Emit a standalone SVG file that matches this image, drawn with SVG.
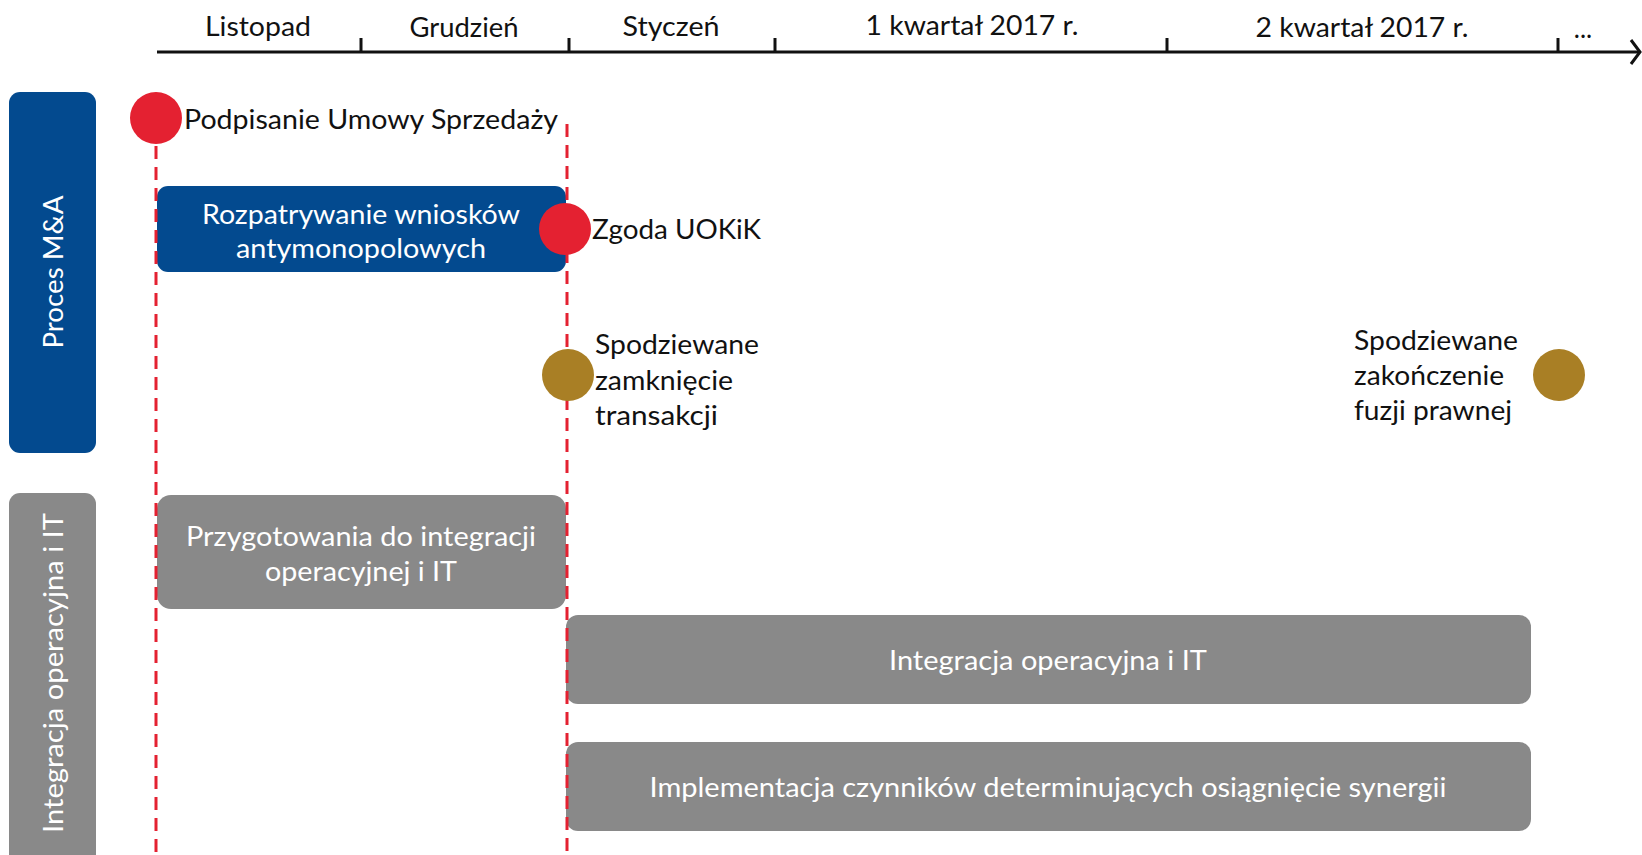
<svg xmlns="http://www.w3.org/2000/svg" width="1642" height="855" viewBox="0 0 1642 855">
<style>
text{font-family:Lato,"Liberation Sans",sans-serif;}
.ax{font-size:26px;fill:#111;text-anchor:middle;dominant-baseline:central;}
.lb{font-size:27px;fill:#111;dominant-baseline:central;}
.wt{font-size:27px;fill:#fff;text-anchor:middle;dominant-baseline:central;}
.blue{fill:#034a8f;}
.gray{fill:#898989;}
.red{fill:#e42131;}
.gold{fill:#a97f25;}
.dash{stroke:#e42131;stroke-width:3;stroke-dasharray:13 8;fill:none;}
.axis{stroke:#111;stroke-width:3;fill:none;}
</style>
<g id="axis">
<line class="axis" x1="157" y1="52" x2="1640" y2="52"/>
<polyline class="axis" points="1631,40 1640,52 1631,64"/>
<line class="axis" x1="361" y1="38" x2="361" y2="52"/>
<line class="axis" x1="569" y1="38" x2="569" y2="52"/>
<line class="axis" x1="775" y1="38" x2="775" y2="52"/>
<line class="axis" x1="1167" y1="38" x2="1167" y2="52"/>
<line class="axis" x1="1558" y1="38" x2="1558" y2="52"/>
<text class="ax" x="258" y="26" textLength="106" lengthAdjust="spacingAndGlyphs">Listopad</text>
<text class="ax" x="464" y="27" textLength="109" lengthAdjust="spacingAndGlyphs">Grudzień</text>
<text class="ax" x="671" y="26" textLength="97" lengthAdjust="spacingAndGlyphs">Styczeń</text>
<text class="ax" x="972" y="25" textLength="213" lengthAdjust="spacingAndGlyphs">1 kwartał 2017 r.</text>
<text class="ax" x="1362" y="27" textLength="213" lengthAdjust="spacingAndGlyphs">2 kwartał 2017 r.</text>
<text class="ax" x="1583" y="28">...</text>
</g>
<g id="lane-ma">
<rect class="blue" x="9" y="92" width="87" height="361" rx="11"/>
<text class="wt" transform="translate(52,272) rotate(-90)" textLength="153" lengthAdjust="spacingAndGlyphs">Proces M&amp;A</text>
</g>
<g id="lane-it">
<rect class="gray" x="9" y="493" width="87" height="380" rx="11"/>
<text class="wt" transform="translate(52,673) rotate(-90)" textLength="320" lengthAdjust="spacingAndGlyphs">Integracja operacyjna i IT</text>
</g>
<g id="box-antymonopol">
<rect class="blue" x="157" y="186" width="409" height="86" rx="11"/>
<text class="wt" x="361" y="213" textLength="318" lengthAdjust="spacingAndGlyphs">Rozpatrywanie wniosków</text>
<text class="wt" x="361" y="247" textLength="250" lengthAdjust="spacingAndGlyphs">antymonopolowych</text>
</g>
<g id="box-przygotowania">
<rect class="gray" x="157" y="495" width="409" height="114" rx="14"/>
<text class="wt" x="361" y="535" textLength="350" lengthAdjust="spacingAndGlyphs">Przygotowania do integracji</text>
<text class="wt" x="361" y="570" textLength="192" lengthAdjust="spacingAndGlyphs">operacyjnej i IT</text>
</g>
<g id="box-integracja">
<rect class="gray" x="566" y="615" width="965" height="89" rx="12"/>
<text class="wt" x="1048" y="659" textLength="318" lengthAdjust="spacingAndGlyphs">Integracja operacyjna i IT</text>
</g>
<g id="box-implementacja">
<rect class="gray" x="566" y="742" width="965" height="89" rx="12"/>
<text class="wt" x="1048" y="786" textLength="797" lengthAdjust="spacingAndGlyphs">Implementacja czynników determinujących osiągnięcie synergii</text>
</g>
<g id="connectors">
<line class="dash" x1="156" y1="146" x2="156" y2="855"/>
<line class="dash" x1="567" y1="124" x2="567" y2="855"/>
</g>
<g id="m-podpisanie">
<circle class="red" cx="156" cy="118" r="26"/>
<text class="lb" x="184" y="118" textLength="374" lengthAdjust="spacingAndGlyphs">Podpisanie Umowy Sprzedaży</text>
</g>
<g id="m-zgoda">
<circle class="red" cx="565" cy="229" r="26"/>
<text class="lb" x="592" y="228" textLength="169" lengthAdjust="spacingAndGlyphs">Zgoda UOKiK</text>
</g>
<g id="m-zamkniecie">
<circle class="gold" cx="568" cy="375" r="26"/>
<text class="lb" x="595" y="343" textLength="164" lengthAdjust="spacingAndGlyphs">Spodziewane</text>
<text class="lb" x="595" y="379" textLength="138" lengthAdjust="spacingAndGlyphs">zamknięcie</text>
<text class="lb" x="595" y="414" textLength="123" lengthAdjust="spacingAndGlyphs">transakcji</text>
</g>
<g id="m-fuzja">
<circle class="gold" cx="1559" cy="375" r="26"/>
<text class="lb" x="1354" y="339" textLength="164" lengthAdjust="spacingAndGlyphs">Spodziewane</text>
<text class="lb" x="1354" y="374" textLength="150" lengthAdjust="spacingAndGlyphs">zakończenie</text>
<text class="lb" x="1354" y="409" textLength="158" lengthAdjust="spacingAndGlyphs">fuzji prawnej</text>
</g>
</svg>
